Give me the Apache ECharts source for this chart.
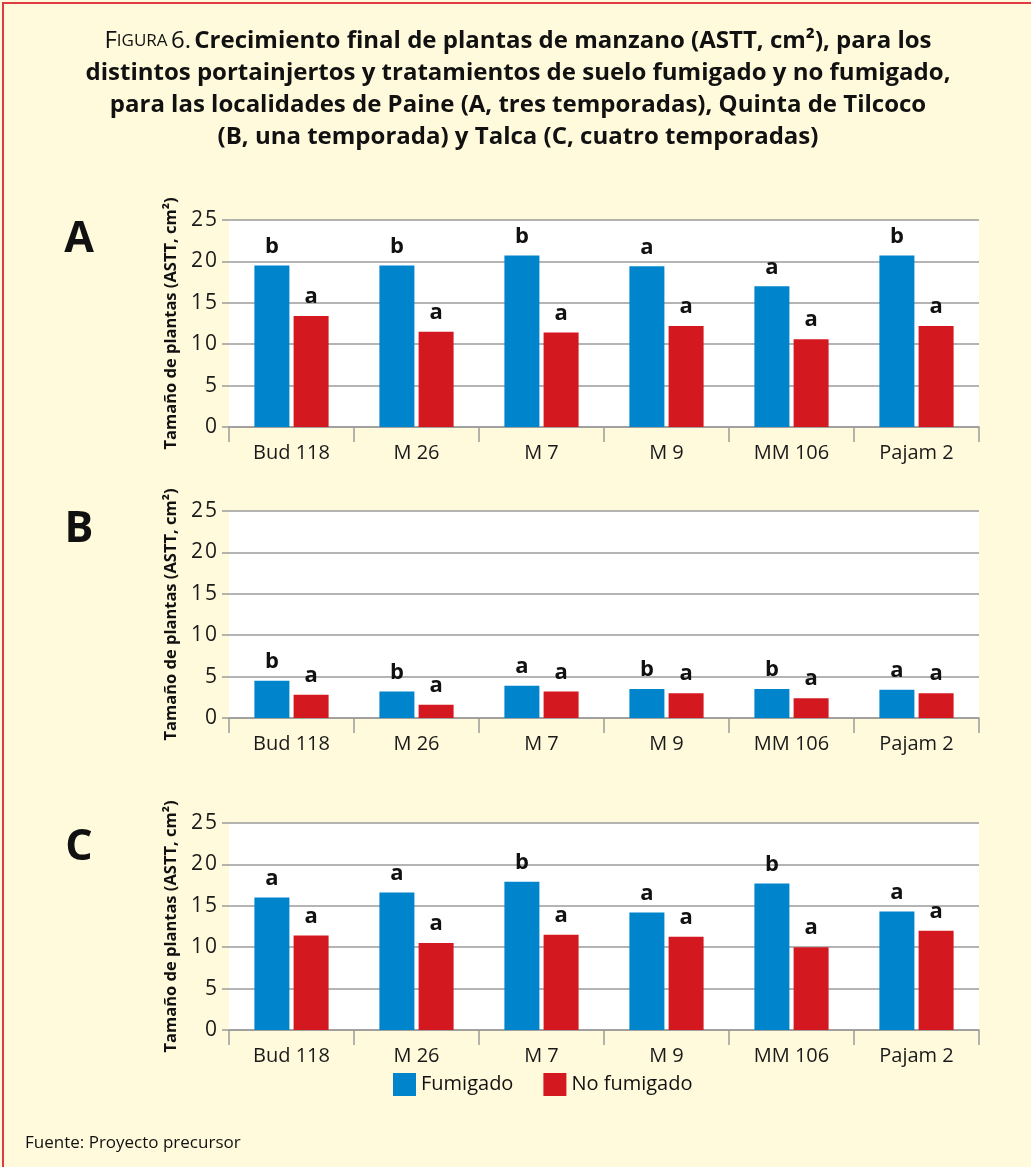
<!DOCTYPE html>
<html lang="es">
<head>
  <meta charset="UTF-8">
  <title>Figura 6 - Crecimiento final de plantas de manzano</title>
  <script src="https://cdn.jsdelivr.net/npm/echarts@6/dist/echarts.min.js"></script>
</head>
<body style="margin: 0; background-color: #fffadc">
<div id="container" style="width: 1031px; height: 1167px"></div>

<script type="text/javascript">
  // portainjertos
  var portainjertos = ['Bud 118', 'M 26', 'M 7', 'M 9', 'MM 106', 'Pajam 2'];
  var yTicks = [0, 5, 10, 15, 20, 25];

  // A: Paine, tres temporadas
  var fumA = [19.5, 19.5, 20.7, 19.4, 17.0, 20.7];
  var noFumA = [13.4, 11.5, 11.4, 12.2, 10.6, 12.2];
  var letrasFumA = ['b', 'b', 'b', 'a', 'a', 'b'];
  var letrasNoFumA = ['a', 'a', 'a', 'a', 'a', 'a'];

  // B: Quinta de Tilcoco, una temporada
  var fumB = [4.5, 3.2, 3.9, 3.5, 3.5, 3.4];
  var noFumB = [2.8, 1.6, 3.2, 3.0, 2.4, 3.0];
  var letrasFumB = ['b', 'b', 'a', 'b', 'b', 'a'];
  var letrasNoFumB = ['a', 'a', 'a', 'a', 'a', 'a'];

  // C: Talca, cuatro temporadas
  var fumC = [16.0, 16.6, 17.9, 14.2, 17.7, 14.3];
  var noFumC = [11.4, 10.5, 11.5, 11.25, 10.0, 12.0];
  var letrasFumC = ['a', 'a', 'b', 'a', 'b', 'a'];
  var letrasNoFumC = ['a', 'a', 'a', 'a', 'a', 'a'];

  var AZUL = '#0084cb';
  var ROJO = '#d4181f';
  var GRIS = '#9b9b9b';
  var FONT = 'Open Sans';

  var dom = document.getElementById('container');
  var myChart = echarts.init(dom, null, { renderer: 'canvas' });

  var paneles = [
    { top: 220, fum: fumA, noFum: noFumA, lf: letrasFumA, ln: letrasNoFumA },
    { top: 511, fum: fumB, noFum: noFumB, lf: letrasFumB, ln: letrasNoFumB },
    { top: 823, fum: fumC, noFum: noFumC, lf: letrasFumC, ln: letrasNoFumC }
  ];

  var grids = [], xAxes = [], yAxes = [], series = [];

  function etiqueta(letras) {
    return {
      show: true,
      position: 'top',
      distance: 8,
      fontFamily: FONT,
      fontWeight: 'bold',
      fontSize: 22,
      color: '#111',
      formatter: function (p) { return letras[p.dataIndex]; }
    };
  }

  paneles.forEach(function (p, i) {
    grids.push({
      left: 229, width: 750, top: p.top, height: 207,
      show: true, backgroundColor: '#ffffff', borderWidth: 0
    });
    xAxes.push({
      type: 'category', gridIndex: i, data: portainjertos,
      axisLine: { lineStyle: { color: GRIS, width: 1.5 } },
      axisTick: { show: true, length: 15, lineStyle: { color: GRIS, width: 1.5 } },
      axisLabel: { color: '#1a1a1a', fontFamily: FONT, fontSize: 20, margin: 16 }
    });
    yAxes.push({
      type: 'value', gridIndex: i, min: 0, max: 25, interval: 5,
      name: 'Tamaño de plantas (ASTT, cm²)',
      nameLocation: 'middle', nameGap: 49,
      nameTextStyle: { fontFamily: FONT, fontWeight: 'bold', fontSize: 16.5, color: '#111' },
      axisLine: { show: false },
      axisTick: { show: true, length: 7, lineStyle: { color: GRIS, width: 1.5 } },
      axisLabel: {
        color: '#1a1a1a', fontFamily: FONT, fontSize: 21, margin: 12,
        formatter: function (v) { return yTicks.indexOf(v) >= 0 ? v.toString().split('').join('\u200a') : ''; }
      },
      splitLine: { lineStyle: { color: GRIS, width: 1.5 } }
    });
    series.push({
      name: 'Fumigado', type: 'bar', xAxisIndex: i, yAxisIndex: i,
      data: p.fum, barWidth: 35, barGap: '12%',
      itemStyle: { color: AZUL }, label: etiqueta(p.lf), silent: true
    });
    series.push({
      name: 'No fumigado', type: 'bar', xAxisIndex: i, yAxisIndex: i,
      data: p.noFum, barWidth: 35, barGap: '12%',
      itemStyle: { color: ROJO }, label: etiqueta(p.ln), silent: true
    });
  });

  var titulo = '{sc|F}{sm|IGURA} {sc|6.} {b|Crecimiento final de plantas de manzano (ASTT, cm²), para los}\n' +
    '{b|distintos portainjertos y tratamientos de suelo fumigado y no fumigado,}\n' +
    '{b|para las localidades de Paine (A, tres temporadas), Quinta de Tilcoco}\n' +
    '{b|(B, una temporada) y Talca (C, cuatro temporadas)}';

  function letra(t, y) {
    return {
      type: 'text', x: 79, y: y,
      style: { text: t, fontFamily: FONT, fontWeight: 'bold', fontSize: 43, fill: '#111', align: 'center', verticalAlign: 'middle' }
    };
  }

  var option = {
    backgroundColor: '#fffadc',
    animation: false,
    legend: {
      left: 388, top: 1068,
      itemWidth: 23, itemHeight: 23, itemGap: 30,
      icon: 'rect',
      selectedMode: false,
      data: ['Fumigado', 'No fumigado'],
      textStyle: { fontFamily: FONT, fontSize: 20, color: '#111' }
    },
    grid: grids,
    xAxis: xAxes,
    yAxis: yAxes,
    series: series,
    graphic: [
      {
        // marco: solo los bordes superior e izquierdo quedan dentro de la imagen
        type: 'polyline', z: 100,
        shape: { points: [[3, 1200], [3, 3], [1200, 3]] },
        style: { fill: null, stroke: '#e03a44', lineWidth: 2 }
      },
      {
        type: 'text', x: 518, y: 25,
        style: {
          text: titulo, align: 'center', verticalAlign: 'top',
          rich: {
            sc: { fontFamily: FONT, fontSize: 24, fill: '#111', lineHeight: 32 },
            sm: { fontFamily: FONT, fontSize: 17, fill: '#111', lineHeight: 32 },
            b: { fontFamily: FONT, fontSize: 24, fontWeight: 'bold', fill: '#111', lineHeight: 32 }
          }
        }
      },
      letra('A', 240),
      letra('B', 530),
      letra('C', 848),
      { type: 'text', x: 25, y: 1143, style: { text: 'Fuente: Proyecto precursor', fontFamily: FONT, fontSize: 17, fill: '#111', verticalAlign: 'middle' } }
    ]
  };

  myChart.setOption(option);
  window.addEventListener('resize', myChart.resize);
</script>
</body>
</html>
